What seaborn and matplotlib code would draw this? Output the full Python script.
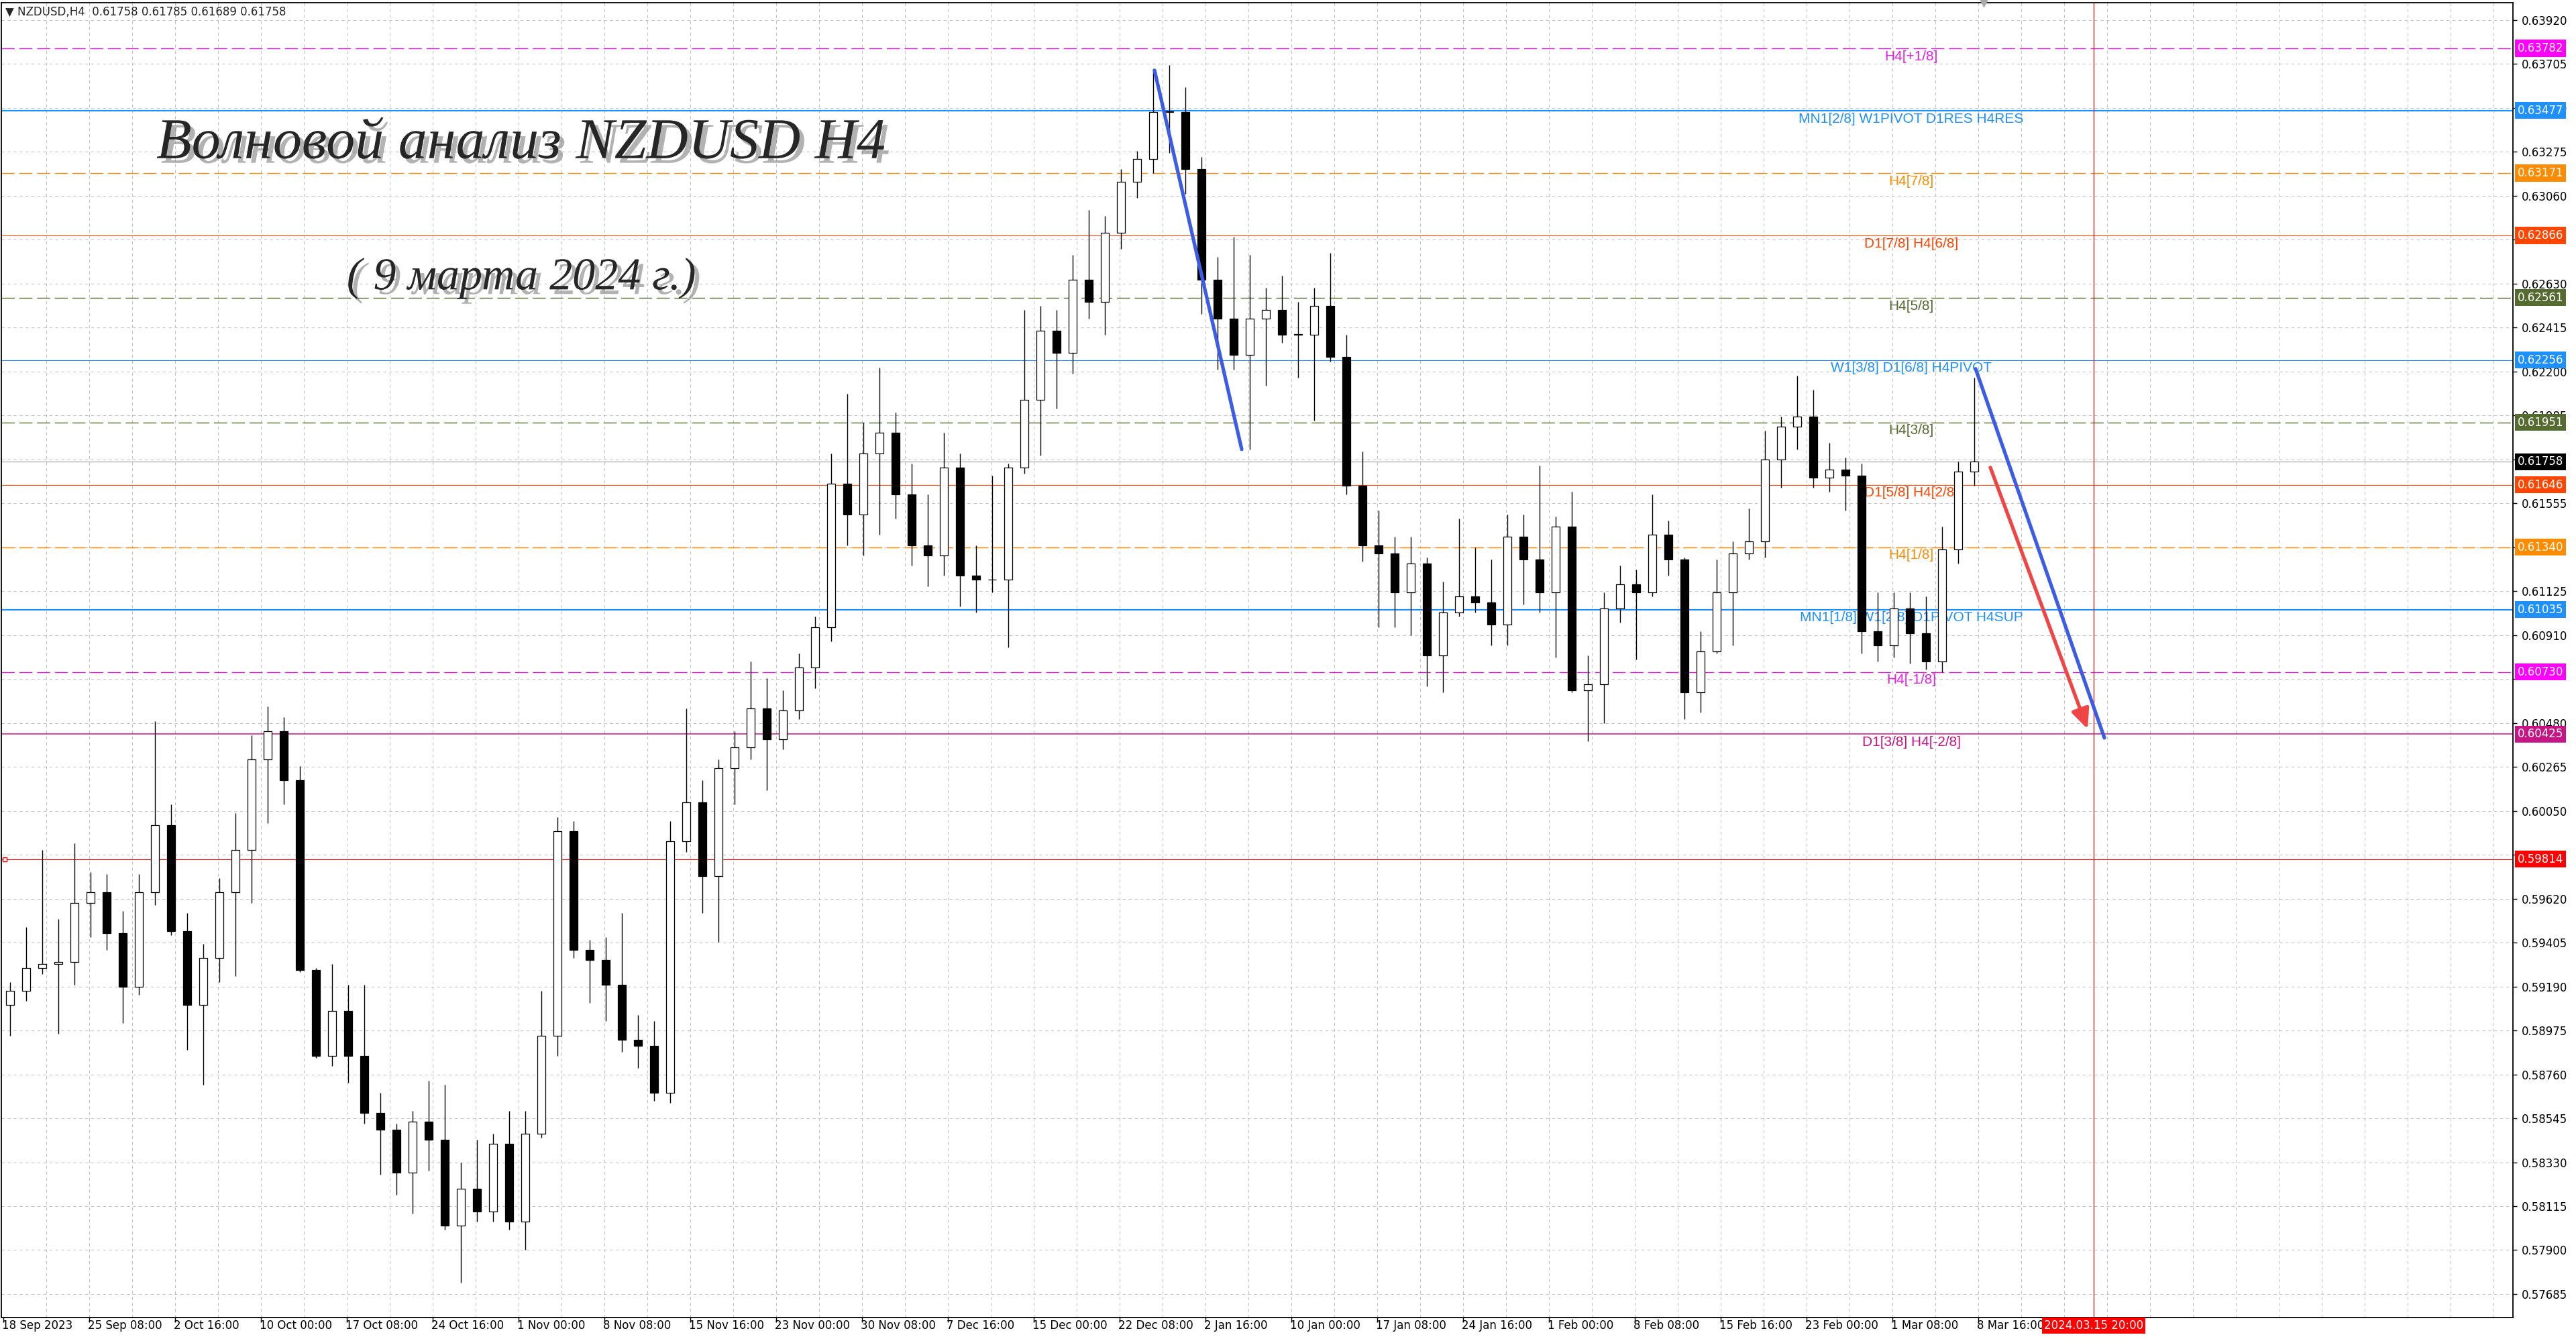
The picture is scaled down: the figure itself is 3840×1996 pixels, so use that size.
import numpy as np
import pandas as pd
import matplotlib
matplotlib.use("Agg")
import matplotlib.pyplot as plt
import matplotlib.patheffects as pe
from matplotlib.transforms import blended_transform_factory
import seaborn as sns

# ── daily OHLC (18 Sep 2023 .. 8 Mar 2024) ──
day_open = [
    0.5910, 0.5917, 0.5928, 0.5930, 0.5931, 0.5960, 0.5965, 0.5945, 0.5919, 0.5965,
    0.5998, 0.5946, 0.5910, 0.5933, 0.5965, 0.5986, 0.6030, 0.6044, 0.6020, 0.5927,
    0.5885, 0.5907, 0.5885, 0.5857, 0.5849, 0.5828, 0.5853, 0.5844, 0.5802, 0.5820,
    0.5809, 0.5842, 0.5804, 0.5847, 0.5895, 0.5995, 0.5937, 0.5932, 0.5920, 0.5893,
    0.5890, 0.5867, 0.5990, 0.6009, 0.5973, 0.6026, 0.6036, 0.6055, 0.6040, 0.6054,
    0.6075, 0.6095, 0.6165, 0.6150, 0.6180, 0.6190, 0.6160, 0.6135, 0.6130, 0.6173,
    0.6120, 0.6118, 0.6118, 0.6173, 0.6206, 0.6240, 0.6229, 0.6265, 0.6254, 0.6288,
    0.6313, 0.6324, 0.6347, 0.6347, 0.6319, 0.6265, 0.6246, 0.6228, 0.6246, 0.6250,
    0.6238, 0.6238, 0.6252, 0.6227, 0.6164, 0.6135, 0.6131, 0.6112, 0.6126, 0.6081,
    0.6102, 0.6110, 0.6107, 0.6096, 0.6139, 0.6128, 0.6112, 0.6144, 0.6064, 0.6067,
    0.6104, 0.6116, 0.6112, 0.6140, 0.6128, 0.6063, 0.6083, 0.6112, 0.6131, 0.6137,
    0.6177, 0.6193, 0.6198, 0.6168, 0.6172, 0.6169, 0.6093, 0.6086, 0.6104, 0.6092,
    0.6078, 0.6133, 0.6171]
day_high = [
    0.5921, 0.5948, 0.5986, 0.5952, 0.5989, 0.5975, 0.5974, 0.5956, 0.5974, 0.6049,
    0.6008, 0.5955, 0.5940, 0.5972, 0.6004, 0.6042, 0.6056, 0.6051, 0.6027, 0.5928,
    0.5930, 0.5920, 0.5920, 0.5867, 0.5852, 0.5858, 0.5873, 0.5871, 0.5833, 0.5844,
    0.5847, 0.5858, 0.5858, 0.5917, 0.6002, 0.6000, 0.5942, 0.5943, 0.5955, 0.5905,
    0.5902, 0.6000, 0.6055, 0.6020, 0.6030, 0.6044, 0.6078, 0.6070, 0.6064, 0.6082,
    0.6100, 0.6180, 0.6209, 0.6195, 0.6222, 0.6200, 0.6175, 0.6160, 0.6190, 0.6180,
    0.6135, 0.6169, 0.6175, 0.6250, 0.6252, 0.6250, 0.6277, 0.6299, 0.6296, 0.6319,
    0.6328, 0.6368, 0.6370, 0.6359, 0.6325, 0.6276, 0.6286, 0.6277, 0.6261, 0.6267,
    0.6254, 0.6261, 0.6278, 0.6238, 0.6181, 0.6152, 0.6139, 0.6139, 0.6129, 0.6117,
    0.6148, 0.6134, 0.6128, 0.6150, 0.6150, 0.6174, 0.6149, 0.6161, 0.6081, 0.6112,
    0.6125, 0.6123, 0.6160, 0.6147, 0.6129, 0.6093, 0.6128, 0.6137, 0.6153, 0.6191,
    0.6198, 0.6218, 0.6211, 0.6185, 0.6178, 0.6175, 0.6112, 0.6112, 0.6112, 0.6110,
    0.6144, 0.6176, 0.6217]
day_low = [
    0.5895, 0.5912, 0.5925, 0.5896, 0.5920, 0.5943, 0.5937, 0.5901, 0.5915, 0.5959,
    0.5944, 0.5888, 0.5871, 0.5921, 0.5924, 0.5960, 0.5999, 0.6008, 0.5926, 0.5884,
    0.5880, 0.5872, 0.5852, 0.5827, 0.5817, 0.5808, 0.5829, 0.5800, 0.5774, 0.5804,
    0.5804, 0.5800, 0.5790, 0.5845, 0.5885, 0.5933, 0.5911, 0.5902, 0.5887, 0.5879,
    0.5863, 0.5862, 0.5985, 0.5955, 0.5941, 0.6008, 0.6030, 0.6015, 0.6035, 0.6050,
    0.6065, 0.6088, 0.6135, 0.6130, 0.6140, 0.6148, 0.6125, 0.6115, 0.6120, 0.6105,
    0.6102, 0.6112, 0.6085, 0.6170, 0.6179, 0.6202, 0.6219, 0.6246, 0.6238, 0.6280,
    0.6305, 0.6317, 0.6327, 0.6307, 0.6248, 0.6221, 0.6221, 0.6182, 0.6213, 0.6234,
    0.6217, 0.6196, 0.6225, 0.6160, 0.6127, 0.6095, 0.6095, 0.6091, 0.6066, 0.6063,
    0.6100, 0.6102, 0.6086, 0.6086, 0.6106, 0.6102, 0.6080, 0.6063, 0.6039, 0.6048,
    0.6097, 0.6079, 0.6110, 0.6120, 0.6050, 0.6053, 0.6082, 0.6086, 0.6128, 0.6129,
    0.6163, 0.6182, 0.6163, 0.6161, 0.6152, 0.6082, 0.6078, 0.6080, 0.6077, 0.6074,
    0.6073, 0.6126, 0.6164]
day_close = [
    0.5917, 0.5928, 0.5930, 0.5931, 0.5960, 0.5965, 0.5945, 0.5919, 0.5965, 0.5998,
    0.5946, 0.5910, 0.5933, 0.5965, 0.5986, 0.6030, 0.6044, 0.6020, 0.5927, 0.5885,
    0.5907, 0.5885, 0.5857, 0.5849, 0.5828, 0.5853, 0.5844, 0.5802, 0.5820, 0.5809,
    0.5842, 0.5804, 0.5847, 0.5895, 0.5995, 0.5937, 0.5932, 0.5920, 0.5893, 0.5890,
    0.5867, 0.5990, 0.6009, 0.5973, 0.6026, 0.6036, 0.6055, 0.6040, 0.6054, 0.6075,
    0.6095, 0.6165, 0.6150, 0.6180, 0.6190, 0.6160, 0.6135, 0.6130, 0.6173, 0.6120,
    0.6118, 0.6118, 0.6173, 0.6206, 0.6240, 0.6229, 0.6265, 0.6254, 0.6288, 0.6313,
    0.6324, 0.6347, 0.6347, 0.6319, 0.6265, 0.6246, 0.6228, 0.6246, 0.6250, 0.6238,
    0.6238, 0.6252, 0.6227, 0.6164, 0.6135, 0.6131, 0.6112, 0.6126, 0.6081, 0.6102,
    0.6110, 0.6107, 0.6096, 0.6139, 0.6128, 0.6112, 0.6144, 0.6064, 0.6067, 0.6104,
    0.6116, 0.6112, 0.6140, 0.6128, 0.6063, 0.6083, 0.6112, 0.6131, 0.6137, 0.6177,
    0.6193, 0.6198, 0.6168, 0.6172, 0.6169, 0.6093, 0.6086, 0.6104, 0.6092, 0.6078,
    0.6133, 0.6171, 0.61758]

BARS_PER_DAY = 6   # H4 bars per trading day, x axis is in H4 bar units

time_labels = ["18 Sep 2023", "25 Sep 08:00", "2 Oct 16:00", "10 Oct 00:00",
               "17 Oct 08:00", "24 Oct 16:00", "1 Nov 00:00", "8 Nov 08:00",
               "15 Nov 16:00", "23 Nov 00:00", "30 Nov 08:00", "7 Dec 16:00",
               "15 Dec 00:00", "22 Dec 08:00", "2 Jan 16:00", "10 Jan 00:00",
               "17 Jan 08:00", "24 Jan 16:00", "1 Feb 00:00", "8 Feb 08:00",
               "15 Feb 16:00", "23 Feb 00:00", "1 Mar 08:00", "8 Mar 16:00"]
LABEL_STEP = 32    # bars between time labels
GRID_STEP = 16

price_ticks = [0.63920, 0.63705, 0.63490, 0.63275, 0.63060, 0.62845, 0.62630,
               0.62415, 0.62200, 0.61985, 0.61770, 0.61555, 0.61340, 0.61125,
               0.60910, 0.60695, 0.60480, 0.60265, 0.60050, 0.59835, 0.59620,
               0.59405, 0.59190, 0.58975, 0.58760, 0.58545, 0.58330, 0.58115,
               0.57900, 0.57685]
# scale labels that sit completely under a price tag in the terminal
covered_ticks = [0.62845, 0.61770, 0.61340, 0.60695]

level_prices = [0.63782, 0.63477, 0.63171, 0.62866, 0.62561, 0.62256,
                0.61951, 0.61646, 0.61340, 0.61035, 0.60730, 0.60425]
level_names = ["H4[+1/8]", "MN1[2/8] W1PIVOT D1RES H4RES", "H4[7/8]",
               "D1[7/8] H4[6/8]", "H4[5/8]", "W1[3/8] D1[6/8] H4PIVOT",
               "H4[3/8]", "D1[5/8] H4[2/8]", "H4[1/8]",
               "MN1[1/8] W1[2/8] D1PIVOT H4SUP", "H4[-1/8]", "D1[3/8] H4[-2/8]"]
level_colors = ["#e81ee8", "#1e90ff", "#ff8c00", "#ff4500", "#556b2f", "#1e90ff",
                "#556b2f", "#ff4500", "#ff8c00", "#1e90ff", "#e81ee8", "#c71585"]
level_dashed = [True, False, True, False, True, False,
                True, False, True, False, True, False]
level_width = [1.0, 1.6, 1.0, 0.8, 1.0, 0.8, 1.0, 0.8, 1.0, 1.6, 1.0, 1.1]

current_price = 0.61758
stop_level = 0.59814
tag_prices = [0.63782, 0.63477, 0.63171, 0.62866, 0.62561, 0.62256, 0.61951,
              0.61758, 0.61646, 0.61340, 0.61035, 0.60730, 0.60425, 0.59814]
tag_colors = ["#ff00ff", "#1e90ff", "#ff8c00", "#ff4500", "#556b2f", "#1e90ff",
              "#556b2f", "#000000", "#ff4500", "#ff8c00", "#1e90ff", "#ff00ff",
              "#c71585", "#ff0000"]

future_bar = 779
future_label = "2024.03.15 20:00"
shift_bar = 738

trend_down_x = [429, 461.5]
trend_down_y = [0.63674, 0.61819]
channel_x = [735, 783]
channel_y = [0.62213, 0.60407]
forecast_x = [740.5, 776.75]
forecast_y = [0.61730, 0.60450]

# ── frame ──
candles = pd.DataFrame({"open": day_open, "high": day_high,
                        "low": day_low, "close": day_close})
candles["x"] = np.arange(len(candles)) * BARS_PER_DAY + 2.5
candles["bull"] = candles["close"] >= candles["open"]
candles["body_lo"] = candles[["open", "close"]].min(axis=1)
candles["body_h"] = (candles["close"] - candles["open"]).abs().clip(lower=0.00003)

sns.set_theme(style="white")
plt.rcParams["font.family"] = ["DejaVu Sans"]

Y_LO, Y_HI = 0.57570, 0.64005
fig = plt.figure(figsize=(38.4, 19.96), dpi=100)
ax = fig.add_axes([2 / 3840, 32 / 1996, 3744 / 3840, 1960 / 1996])
ax.set_xlim(-0.75, 935.25)
ax.set_ylim(Y_LO, Y_HI)

# grid
grid_bars = np.arange(GRID_STEP, 935, GRID_STEP)
ax.vlines(grid_bars, Y_LO, Y_HI, colors="#c4c4c4", linewidth=0.8,
          linestyles=(0, (4, 4)), zorder=0.6)
ax.hlines(price_ticks, -0.75, 935.25, colors="#c4c4c4", linewidth=0.8,
          linestyles=(0, (4, 4)), zorder=0.6)

# horizontal levels
for p, name, c, dashed, w in zip(level_prices, level_names, level_colors,
                                 level_dashed, level_width):
    ax.axhline(p, color=c, linewidth=w, zorder=1,
               linestyle=(0, (14, 5)) if dashed else "-")
    ax.annotate(name, xy=(711, p), xytext=(0, -2), textcoords="offset points",
                ha="center", va="top", color=c, fontsize=15,
                family=["Liberation Sans", "DejaVu Sans"], zorder=1.5)
ax.axhline(current_price, color="#b4b4b4", linewidth=1.0, zorder=1)
ax.axhline(stop_level, color="#ff0000", linewidth=0.8, zorder=1)
ax.plot([0.5], [stop_level], marker="s", markersize=5, mfc="white",
        mec="#ff0000", mew=1, zorder=1.2)
ax.axvline(future_bar, color="#c0282a", linewidth=1.0, zorder=1)

# candles
ax.vlines(candles["x"], candles["low"], candles["high"], colors="black",
          linewidth=1.0, zorder=3)
ax.bar(candles["x"], candles["body_h"], bottom=candles["body_lo"], width=3.0,
       color=np.where(candles["bull"], "white", "black"), edgecolor="black",
       linewidth=0.9, zorder=4)

# wave marks
ax.plot(trend_down_x, trend_down_y, color="#3c5ce6", linewidth=3.8,
        solid_capstyle="round", zorder=6)
ax.plot(channel_x, channel_y, color="#3c5ce6", linewidth=3.8,
        solid_capstyle="round", zorder=6)
ax.annotate("", xy=(forecast_x[1], forecast_y[1]),
            xytext=(forecast_x[0], forecast_y[0]),
            arrowprops=dict(arrowstyle="-|>,head_length=1.0,head_width=0.45",
                            mutation_scale=18, color="#f04545", lw=3.8,
                            shrinkA=0, shrinkB=0, capstyle="round"),
            zorder=6)
ax.plot([shift_bar], [Y_HI], marker="v", markersize=9, color="#a8a8a8",
        clip_on=False, zorder=7)

# axes look
for s in ax.spines.values():
    s.set_color("black")
    s.set_linewidth(1.3)
ax.set_xticks(np.arange(0, LABEL_STEP * len(time_labels), LABEL_STEP))
ax.set_xticklabels([])
ax.yaxis.tick_right()
ax.set_yticks(price_ticks)
ax.set_yticklabels(["" if v in covered_ticks else f"{v:.5f}" for v in price_ticks])
ax.tick_params(axis="x", bottom=True, length=5, width=1, color="black")
ax.tick_params(axis="y", right=True, left=False, length=4, width=1,
               color="black", pad=5, labelsize=12, labelcolor="black")
ax.grid(False)

below = blended_transform_factory(ax.transData, ax.transAxes)
for i, lab in enumerate(time_labels):
    ax.text(i * LABEL_STEP - 0.5, -12 / 1960, lab, transform=below,
            ha="left", va="center", fontsize=12, color="black", clip_on=False)
ax.text(future_bar, -12 / 1960, future_label, transform=below, ha="center",
        va="center", fontsize=12, color="white", clip_on=False, zorder=10,
        bbox=dict(boxstyle="square,pad=0.2", fc="#ff0000", ec="none"))

right = blended_transform_factory(ax.transAxes, ax.transData)
for p, c in zip(tag_prices, tag_colors):
    ax.text(1.0019, p, f"{p:.5f}", transform=right, ha="left", va="center",
            fontsize=12, color="white", clip_on=False, zorder=10,
            bbox=dict(boxstyle="square,pad=0.22", fc=c, ec="none"))

# texts
ax.text(0.0015, 1 - 14 / 1960, "\u25bc NZDUSD,H4  0.61758 0.61785 0.61689 0.61758",
        transform=ax.transAxes, ha="left", va="center", fontsize=12, zorder=8)
shadow = [pe.withSimplePatchShadow(offset=(5, -5), shadow_rgbFace="0.45", alpha=0.55)]
ax.text(0.207, 1 - 211 / 1960, "Волновой анализ NZDUSD H4", transform=ax.transAxes,
        ha="center", va="center", fontsize=62, style="italic",
        family=["Liberation Serif", "DejaVu Serif"], path_effects=shadow, zorder=8)
ax.text(0.207, 1 - 411 / 1960, "( 9 марта 2024 г.)", transform=ax.transAxes,
        ha="center", va="center", fontsize=49, style="italic",
        family=["Liberation Serif", "DejaVu Serif"], path_effects=shadow, zorder=8)

fig.savefig("out.png", dpi=100, facecolor="white")
